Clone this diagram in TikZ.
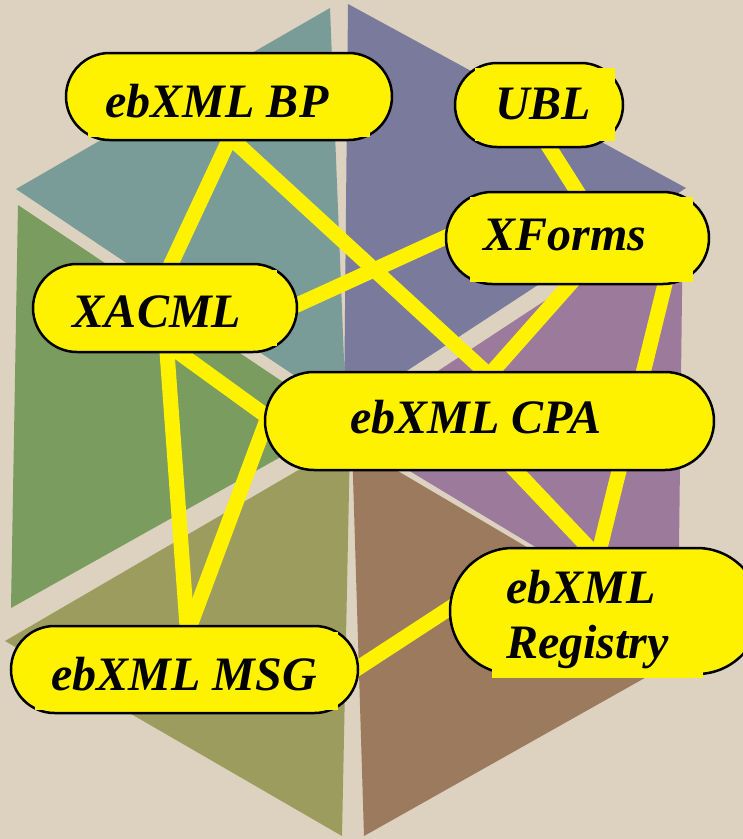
\documentclass[tikz,border=0pt]{standalone}
\usepackage{fontspec}
\setmainfont{Liberation Serif}
\definecolor{bgbeige}{HTML}{DCD2BF}
\definecolor{cteal}{HTML}{7A9C98}
\definecolor{cpurple}{HTML}{7A7A9C}
\definecolor{cmauve}{HTML}{9C7A9C}
\definecolor{cbrown}{HTML}{9C7A5E}
\definecolor{colive}{HTML}{9C9C5E}
\definecolor{cgreen}{HTML}{7A9C5E}
\pgfdeclarelayer{bglayer}
\pgfdeclarelayer{edgelayer}
\pgfsetlayers{bglayer,edgelayer,main}
\tikzset{
  stadium/.style={draw=black, line width=2.5pt, fill=yellow, inner sep=0pt, outer sep=0pt},
  conn/.style={draw=yellow, line width=15pt, shorten <=-8pt, shorten >=-8pt},
  patch/.style={fill=yellow},
  label/.style={inner sep=0pt, font=\fontsize{48}{55}\selectfont\bfseries\itshape}
}
\begin{document}
\begin{tikzpicture}[x=1pt,y=-1pt]
\useasboundingbox (0,0) rectangle (743,839);
\clip (0,0) rectangle (743,839);
\begin{pgfonlayer}{bglayer}
\fill[bgbeige] (0,0) rectangle (743,839);
\fill[cteal]   (330,8) -- (16,189) -- (346,410) -- cycle;
\fill[cpurple] (348,4) -- (686,188) -- (344,412) -- cycle;
\fill[cmauve]  (683,210) -- (678,633) -- (345,432) -- cycle;
\fill[cbrown]  (352,444) -- (698,648) -- (364,836) -- cycle;
\fill[colive]  (5,641) -- (350,440) -- (342,836) -- cycle;
\fill[cgreen]  (18,205) -- (343,422) -- (11,608) -- cycle;
\end{pgfonlayer}

% node shapes
\node[stadium, minimum width=326pt, minimum height=87pt, rounded corners=43.5pt] (bp) at (229,96.5) {};
\node[stadium, minimum width=168pt, minimum height=84pt, rounded corners=42pt] (ubl) at (539,105) {};
\node[stadium, minimum width=263pt, minimum height=92pt, rounded corners=46pt] (xf) at (577.5,238) {};
\node[stadium, minimum width=264pt, minimum height=88pt, rounded corners=44pt] (xa) at (165,308) {};
\node[stadium, minimum width=449pt, minimum height=98pt, rounded corners=49pt] (cpa) at (489.5,421) {};
\node[stadium, minimum width=310pt, minimum height=126pt, rounded corners=63pt] (reg) at (605,611) {};
\node[stadium, minimum width=347pt, minimum height=87pt, rounded corners=43.5pt] (msg) at (184.5,669.5) {};

% connectors
\begin{pgfonlayer}{edgelayer}
\draw[conn] (bp.south) -- ([xshift=6pt]xa.north);
\draw[conn] ([xshift=4pt]bp.south) -- ([xshift=-4pt]cpa.north);
\draw[conn] ([xshift=10pt]ubl.south) -- (xf.north);
\draw[conn] ([yshift=3pt]xa.east) -- ([yshift=1pt]xf.west);
\draw[conn] ([xshift=-7.5pt]xf.south) -- ([xshift=2.5pt]cpa.north);
\draw[conn] ([xshift=87.5pt]xf.south) -- ([xshift=-5pt]reg.north);
\draw[conn] ([xshift=25.5pt]cpa.south) -- ([xshift=-16pt]reg.north);
\draw[conn] ([xshift=13pt]xa.south) -- ([yshift=6pt]cpa.west);
\draw[conn] ([xshift=2pt]xa.south) -- ([xshift=2.5pt]msg.north);
\draw[conn] ([yshift=-4pt]cpa.west) -- ([xshift=5.5pt]msg.north);
\draw[conn] ([yshift=1.5pt]msg.east) -- ([yshift=3pt]reg.west);
\end{pgfonlayer}

% text-box patches
\fill[patch] (88,60) rectangle (370,137);
\fill[patch] (475,68) rectangle (615,141);
\fill[patch] (470,197) rectangle (693,282);
\fill[patch] (58,270) rectangle (277,346);
\fill[patch] (492,553) rectangle (703,678);
\fill[patch] (35,632) rectangle (338,710);

% texts
\node[label, anchor=base] (bpt) at (217,117) {ebXML BP};
\node[label, anchor=base] (ublt) at (543,119) {UBL};
\node[label, anchor=base] (xft) at (565,250) {XForms};
\node[label, anchor=base] (xat) at (157,327) {XACML};
\node[label, anchor=base] (cpat) at (476,433) {ebXML CPA};
\node[label, anchor=base west] (regt1) at (506,603) {ebXML};
\node[label, anchor=base west] (regt2) at (506,658) {Registry};
\node[label, anchor=base] (msgt) at (184,690) {ebXML MSG};
\end{tikzpicture}
\end{document}
